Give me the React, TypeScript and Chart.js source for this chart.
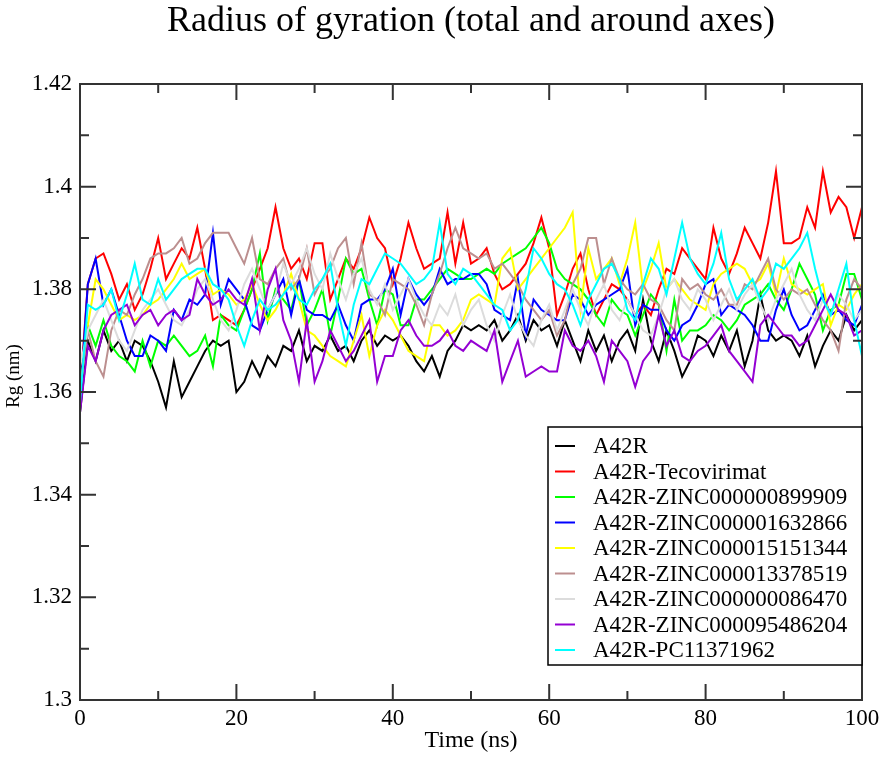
import React, { useEffect, useRef } from "react";
import { Chart, registerables } from "chart.js";

Chart.register(...registerables);

const chartTitle = "Radius of gyration (total and around axes)";
const xAxisTitle = "Time (ns)";
const yAxisTitle = "Rg (nm)";

const times: number[] = Array.from({ length: 101 }, (_, i) => i);

const seriesNames = [
  "A42R",
  "A42R-Tecovirimat",
  "A42R-ZINC000000899909",
  "A42R-ZINC000001632866",
  "A42R-ZINC000015151344",
  "A42R-ZINC000013378519",
  "A42R-ZINC000000086470",
  "A42R-ZINC000095486204",
  "A42R-PC11371962",
];

const seriesColors = [
  "#000000",
  "#ff0000",
  "#00ff00",
  "#0000ff",
  "#ffff00",
  "#bc8f8f",
  "#dcdcdc",
  "#9400d3",
  "#00ffff",
];

const a42r = [
  1.356, 1.370, 1.366, 1.372, 1.368, 1.370, 1.366, 1.370, 1.369, 1.366,
  1.362, 1.357, 1.366, 1.359, 1.362, 1.365, 1.368, 1.370, 1.369, 1.370,
  1.360, 1.362, 1.366, 1.363, 1.367, 1.365, 1.369, 1.368, 1.372, 1.366,
  1.369, 1.368, 1.371, 1.368, 1.369, 1.366, 1.370, 1.372, 1.369, 1.371,
  1.370, 1.371, 1.369, 1.366, 1.364, 1.367, 1.363, 1.368, 1.370, 1.373,
  1.372, 1.373, 1.372, 1.374, 1.370, 1.372, 1.375, 1.370, 1.374, 1.372,
  1.373, 1.369, 1.374, 1.370, 1.366, 1.372, 1.368, 1.371, 1.366, 1.370,
  1.372, 1.368, 1.378, 1.370, 1.366, 1.372, 1.368, 1.363, 1.366, 1.371,
  1.370, 1.367, 1.371, 1.368, 1.372, 1.365, 1.370, 1.379, 1.372, 1.370,
  1.371, 1.370, 1.367, 1.371, 1.365, 1.369, 1.372, 1.370, 1.375, 1.372,
  1.374,
];

const tecovirimat = [
  1.360, 1.381, 1.386, 1.387, 1.383, 1.378, 1.381, 1.376, 1.379, 1.384,
  1.390, 1.382, 1.385, 1.388, 1.386, 1.392, 1.384, 1.374, 1.375, 1.374,
  1.373, 1.376, 1.380, 1.384, 1.388, 1.396, 1.388, 1.384, 1.386, 1.382,
  1.389, 1.389, 1.378, 1.382, 1.386, 1.384, 1.388, 1.394, 1.390, 1.388,
  1.381, 1.386, 1.393, 1.388, 1.384, 1.385, 1.386, 1.395, 1.385, 1.393,
  1.385, 1.386, 1.388, 1.383, 1.380, 1.381, 1.383, 1.385, 1.389, 1.394,
  1.388, 1.375, 1.379, 1.384, 1.387, 1.380, 1.375, 1.378, 1.381, 1.380,
  1.378, 1.375, 1.377, 1.375, 1.380, 1.384, 1.383, 1.388, 1.386, 1.384,
  1.382, 1.392, 1.386, 1.383, 1.387, 1.392, 1.389, 1.386, 1.393, 1.403,
  1.389, 1.389, 1.390, 1.396, 1.392, 1.403, 1.395, 1.398, 1.396, 1.390,
  1.396,
];

const zinc899909 = [
  1.360, 1.373, 1.369, 1.374, 1.369, 1.367, 1.366, 1.364, 1.370, 1.365,
  1.370, 1.369, 1.371, 1.369, 1.367, 1.368, 1.371, 1.365, 1.375, 1.373,
  1.372, 1.376, 1.380, 1.387, 1.374, 1.380, 1.378, 1.376, 1.382, 1.373,
  1.376, 1.380, 1.371, 1.378, 1.386, 1.383, 1.384, 1.378, 1.373, 1.380,
  1.379, 1.373, 1.373, 1.378, 1.378, 1.380, 1.382, 1.384, 1.383, 1.382,
  1.382, 1.383, 1.384, 1.383, 1.385, 1.386, 1.387, 1.388, 1.390, 1.392,
  1.389, 1.384, 1.382, 1.381, 1.380, 1.378, 1.375, 1.373, 1.378, 1.376,
  1.375, 1.371, 1.375, 1.379, 1.377, 1.368, 1.378, 1.370, 1.372, 1.372,
  1.373, 1.375, 1.374, 1.372, 1.374, 1.377, 1.378, 1.379, 1.381, 1.378,
  1.376, 1.380, 1.385, 1.382, 1.379, 1.372, 1.376, 1.377, 1.383, 1.383,
  1.378,
];

const zinc1632866 = [
  1.358, 1.381, 1.386, 1.377, 1.380, 1.375, 1.370, 1.367, 1.367, 1.371,
  1.370, 1.368, 1.376, 1.374, 1.378, 1.377, 1.379, 1.391, 1.377, 1.382,
  1.380, 1.378, 1.373, 1.372, 1.376, 1.379, 1.382, 1.375, 1.382, 1.376,
  1.375, 1.375, 1.374, 1.377, 1.373, 1.370, 1.377, 1.378, 1.378, 1.380,
  1.384, 1.375, 1.382, 1.379, 1.377, 1.379, 1.384, 1.381, 1.382, 1.382,
  1.383, 1.383, 1.381, 1.376, 1.375, 1.374, 1.382, 1.371, 1.378, 1.376,
  1.375, 1.374, 1.374, 1.379, 1.378, 1.375, 1.377, 1.378, 1.379, 1.380,
  1.384, 1.373, 1.377, 1.376, 1.376, 1.372, 1.370, 1.373, 1.374, 1.377,
  1.381, 1.382, 1.375, 1.377, 1.376, 1.375, 1.373, 1.370, 1.370, 1.376,
  1.380, 1.375, 1.372, 1.373, 1.376, 1.379, 1.375, 1.376, 1.374, 1.373,
  1.377,
];

const zinc15151344 = [
  1.360, 1.373, 1.382, 1.380, 1.377, 1.374, 1.375, 1.374, 1.375, 1.377,
  1.378, 1.380, 1.382, 1.385, 1.382, 1.383, 1.384, 1.379, 1.380, 1.379,
  1.377, 1.378, 1.381, 1.377, 1.374, 1.376, 1.379, 1.383, 1.378, 1.372,
  1.371, 1.369, 1.367, 1.366, 1.365, 1.370, 1.375, 1.367, 1.373, 1.376,
  1.374, 1.371, 1.368, 1.367, 1.366, 1.373, 1.373, 1.371, 1.372, 1.374,
  1.378, 1.379, 1.378, 1.377, 1.386, 1.388, 1.380, 1.382, 1.384, 1.386,
  1.388, 1.390, 1.392, 1.395, 1.376, 1.388, 1.382, 1.384, 1.386, 1.381,
  1.386, 1.393, 1.380, 1.384, 1.389, 1.380, 1.382, 1.380, 1.378, 1.377,
  1.376, 1.381, 1.383, 1.384, 1.385, 1.384, 1.381, 1.382, 1.385, 1.379,
  1.386, 1.381, 1.380, 1.379, 1.380, 1.381, 1.373, 1.377, 1.376, 1.379,
  1.381,
];

const zinc13378519 = [
  1.360, 1.372, 1.366, 1.363, 1.372, 1.376, 1.375, 1.379, 1.382, 1.386,
  1.387, 1.387, 1.388, 1.390, 1.385, 1.386, 1.389, 1.391, 1.391, 1.391,
  1.388, 1.385, 1.390, 1.382, 1.381, 1.384, 1.386, 1.380, 1.382, 1.388,
  1.379, 1.382, 1.384, 1.388, 1.390, 1.381, 1.389, 1.379, 1.378, 1.375,
  1.382, 1.381, 1.380, 1.377, 1.373, 1.379, 1.383, 1.388, 1.392, 1.388,
  1.387, 1.386, 1.387, 1.384, 1.385, 1.383, 1.381, 1.378, 1.376, 1.374,
  1.376, 1.371, 1.374, 1.381, 1.384, 1.390, 1.390, 1.381, 1.386, 1.382,
  1.380, 1.379, 1.381, 1.378, 1.377, 1.374, 1.372, 1.382, 1.380, 1.381,
  1.379, 1.378, 1.380, 1.377, 1.377, 1.381, 1.380, 1.383, 1.386, 1.380,
  1.378, 1.380, 1.379, 1.380, 1.377, 1.374, 1.372, 1.368, 1.378, 1.382,
  1.380,
];

const zinc86470 = [
  1.365, 1.372, 1.375, 1.378, 1.374, 1.370, 1.368, 1.372, 1.376, 1.378,
  1.380, 1.377, 1.374, 1.373, 1.376, 1.380, 1.382, 1.378, 1.374, 1.372,
  1.376, 1.381, 1.384, 1.380, 1.376, 1.379, 1.385, 1.381, 1.384, 1.388,
  1.383, 1.380, 1.387, 1.382, 1.378, 1.383, 1.386, 1.380, 1.377, 1.381,
  1.376, 1.379, 1.382, 1.378, 1.375, 1.373, 1.377, 1.375, 1.379, 1.373,
  1.376, 1.378, 1.373, 1.370, 1.375, 1.379, 1.374, 1.371, 1.369, 1.374,
  1.377, 1.372, 1.376, 1.380, 1.376, 1.373, 1.378, 1.381, 1.376, 1.374,
  1.378, 1.375, 1.372, 1.371, 1.375, 1.380, 1.382, 1.378, 1.376, 1.380,
  1.378, 1.374, 1.377, 1.380, 1.376, 1.379, 1.381, 1.377, 1.374, 1.378,
  1.381, 1.384, 1.379, 1.376, 1.374, 1.378, 1.375, 1.379, 1.377, 1.374,
  1.376,
];

const zinc95486204 = [
  1.356, 1.369, 1.366, 1.372, 1.375, 1.376, 1.377, 1.373, 1.375, 1.376,
  1.373, 1.375, 1.376, 1.374, 1.375, 1.382, 1.379, 1.377, 1.378, 1.380,
  1.378, 1.377, 1.382, 1.372, 1.380, 1.384, 1.374, 1.370, 1.362, 1.374,
  1.362, 1.366, 1.372, 1.369, 1.366, 1.368, 1.371, 1.374, 1.362, 1.367,
  1.367, 1.372, 1.374, 1.371, 1.369, 1.369, 1.370, 1.372, 1.369, 1.368,
  1.370, 1.369, 1.368, 1.372, 1.362, 1.366, 1.370, 1.363, 1.364, 1.365,
  1.364, 1.364, 1.372, 1.369, 1.368, 1.370, 1.367, 1.362, 1.370, 1.368,
  1.366, 1.361, 1.366, 1.368, 1.375, 1.369, 1.372, 1.367, 1.366, 1.368,
  1.369, 1.371, 1.373, 1.368, 1.366, 1.364, 1.362, 1.373, 1.375, 1.373,
  1.371, 1.371, 1.369, 1.370, 1.373, 1.376, 1.379, 1.376, 1.375, 1.371,
  1.372,
];

const pc11371962 = [
  1.358, 1.377, 1.376, 1.377, 1.380, 1.374, 1.379, 1.385, 1.378, 1.377,
  1.382, 1.378, 1.380, 1.382, 1.383, 1.384, 1.384, 1.381, 1.380, 1.378,
  1.373, 1.369, 1.374, 1.378, 1.376, 1.377, 1.379, 1.381, 1.378, 1.377,
  1.380, 1.382, 1.385, 1.376, 1.369, 1.377, 1.382, 1.381, 1.384, 1.387,
  1.386, 1.385, 1.383, 1.381, 1.382, 1.384, 1.393, 1.383, 1.381, 1.384,
  1.383, 1.381, 1.379, 1.377, 1.376, 1.372, 1.374, 1.380, 1.388, 1.386,
  1.383, 1.381, 1.380, 1.377, 1.373, 1.378, 1.381, 1.384, 1.385, 1.382,
  1.376, 1.374, 1.381, 1.386, 1.384, 1.379, 1.386, 1.393, 1.386, 1.383,
  1.381, 1.385, 1.391, 1.382, 1.378, 1.380, 1.382, 1.378, 1.380, 1.385,
  1.384, 1.386, 1.388, 1.391, 1.384, 1.378, 1.375, 1.380, 1.385, 1.374,
  1.367,
];

const seriesValues = [
  a42r,
  tecovirimat,
  zinc899909,
  zinc1632866,
  zinc15151344,
  zinc13378519,
  zinc86470,
  zinc95486204,
  pc11371962,
];

const yMin = 1.3;
const yMax = 1.42;
const yStep = 0.02;
const xMin = 0;
const xMax = 100;
const xStep = 20;

const SERIF = "'Liberation Serif', 'Times New Roman', serif";

const framePlugin = {
  id: "frameTicks",
  afterDatasetsDraw(chart: any) {
    const { ctx, chartArea: a, scales } = chart;
    const xs = scales.x;
    const ys = scales.y;
    ctx.save();

    // main title, centred over the plot area
    ctx.fillStyle = "#000000";
    ctx.font = `36px ${SERIF}`;
    ctx.textAlign = "center";
    ctx.textBaseline = "middle";
    ctx.fillText(chartTitle, (a.left + a.right) / 2, 22);

    // y-axis title
    ctx.save();
    ctx.translate(14, (a.top + a.bottom) / 2 - 16);
    ctx.rotate(-Math.PI / 2);
    ctx.font = `19px ${SERIF}`;
    ctx.fillText(yAxisTitle, 0, 0);
    ctx.restore();

    ctx.strokeStyle = "#333333";
    ctx.lineWidth = 2;
    ctx.strokeRect(a.left, a.top, a.right - a.left, a.bottom - a.top);
    const major = 16;
    const minor = 9;
    const xv: number[] = xs.ticks.map((t: any) => t.value);
    const yv: number[] = ys.ticks.map((t: any) => t.value);
    ctx.beginPath();
    const xTick = (v: number, len: number) => {
      const p = xs.getPixelForValue(v);
      ctx.moveTo(p, a.bottom);
      ctx.lineTo(p, a.bottom - len);
      ctx.moveTo(p, a.top);
      ctx.lineTo(p, a.top + len);
    };
    const yTick = (v: number, len: number) => {
      const p = ys.getPixelForValue(v);
      ctx.moveTo(a.left, p);
      ctx.lineTo(a.left + len, p);
      ctx.moveTo(a.right, p);
      ctx.lineTo(a.right - len, p);
    };
    xv.forEach((v, i) => {
      xTick(v, major);
      if (i < xv.length - 1) xTick((v + xv[i + 1]) / 2, minor);
    });
    yv.forEach((v, i) => {
      yTick(v, major);
      if (i < yv.length - 1) yTick((v + yv[i + 1]) / 2, minor);
    });
    ctx.stroke();

    // legend box
    const w = 314;
    const h = 238;
    const right = a.right;
    const bottom = a.bottom - 35;
    const left = right - w;
    const top = bottom - h;
    ctx.fillStyle = "#ffffff";
    ctx.fillRect(left, top, w, h);
    ctx.strokeStyle = "#000000";
    ctx.lineWidth = 1.5;
    ctx.strokeRect(left, top, w, h);
    ctx.font = `23px ${SERIF}`;
    ctx.textBaseline = "middle";
    ctx.textAlign = "left";
    chart.data.datasets.forEach((ds: any, i: number) => {
      const cy = top + 19 + i * 25.5;
      ctx.strokeStyle = ds.borderColor;
      ctx.lineWidth = 2;
      ctx.beginPath();
      ctx.moveTo(left + 7, cy);
      ctx.lineTo(left + 27, cy);
      ctx.stroke();
      ctx.fillStyle = "#000000";
      ctx.fillText(ds.label, left + 45, cy + 1);
    });
    ctx.restore();
  },
};

export default function App() {
  const canvasRef = useRef<HTMLCanvasElement | null>(null);

  useEffect(() => {
    const canvas = canvasRef.current;
    if (!canvas) return;
    const n = seriesNames.length;
    const chart = new Chart(canvas, {
      type: "line",
      data: {
        labels: times,
        datasets: seriesNames.map((name, i) => ({
          label: name,
          data: seriesValues[i],
          borderColor: seriesColors[i],
          backgroundColor: seriesColors[i],
          borderWidth: 2,
          pointRadius: 0,
          tension: 0,
          fill: false,
          order: n - 1 - i,
        })),
      },
      options: {
        animation: false,
        responsive: false,
        devicePixelRatio: 1,
        layout: { padding: { left: 0, right: 24, top: 84, bottom: 0 } },
        plugins: {
          legend: { display: false },
          tooltip: { enabled: false },
          title: { display: false },
        },
        scales: {
          x: {
            type: "linear",
            min: xMin,
            max: xMax,
            grid: { display: false, drawTicks: false },
            border: { display: false },
            ticks: {
              stepSize: xStep,
              color: "#000000",
              padding: 5,
              font: { family: SERIF, size: 23 },
              maxRotation: 0,
            },
            title: {
              display: true,
              text: xAxisTitle,
              color: "#000000",
              font: { family: SERIF, size: 24 },
              padding: { top: 0, bottom: 4 },
            },
            afterFit: (s: any) => {
              s.height = 59;
            },
          },
          y: {
            type: "linear",
            min: yMin,
            max: yMax,
            grid: { display: false, drawTicks: false },
            border: { display: false },
            ticks: {
              stepSize: yStep,
              color: "#000000",
              padding: 8,
              font: { family: SERIF, size: 23 },
              callback: (v: any) => String(Number(Number(v).toFixed(2))),
            },
            title: { display: false },
            afterFit: (s: any) => {
              s.width = 80;
            },
          },
        },
      },
      plugins: [framePlugin],
    });
    return () => chart.destroy();
  }, []);

  return (
    <div style={{ position: "absolute", left: 0, top: 0, width: 886, height: 759, background: "#ffffff" }}>
      <canvas ref={canvasRef} width={886} height={759} style={{ display: "block" }} />
    </div>
  );
}
